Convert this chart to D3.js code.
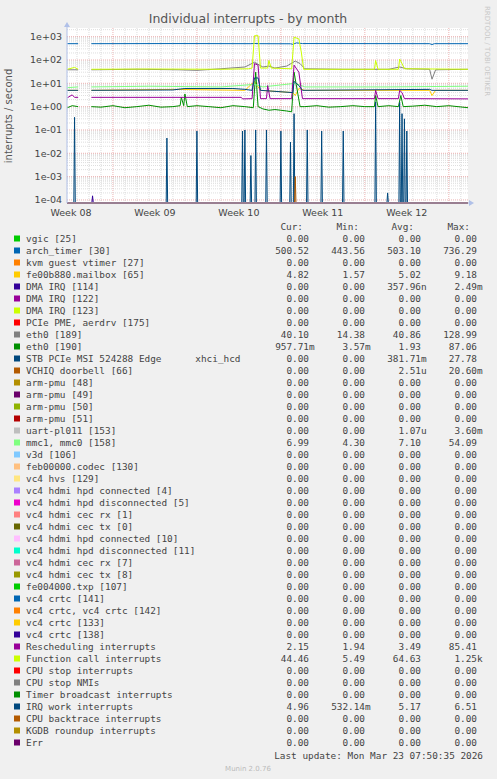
<!DOCTYPE html>
<html><head><meta charset="utf-8">
<script src="https://cdn.jsdelivr.net/npm/d3@7"></script>
<style>
body{margin:0;background:#f0f0f0;}
text{font-family:"DejaVu Sans",sans-serif;}
.mono{font-family:"DejaVu Sans Mono",monospace;font-size:9.4px;fill:#444;}
</style></head>
<body><svg id="c" width="497" height="779"></svg>
<script>
// time in days from Monday of week 08
var weekLabels = ['Week 08','Week 09','Week 10','Week 11','Week 12'];
var yTicks = [1e3,1e2,1e1,1,1e-1,1e-2,1e-3,1e-4];
var yTickLabels = ['1e+03','1e+02','1e+01','1e+00','1e-01','1e-02','1e-03','1e-04'];

// visible series, [day, value]; null value = no data
var archTimer = [[3.2,500],[4.1,500],[4.1,null],[5.2,null],[5.2,500],[12,505],[18.5,500],[18.8,510],[19.2,500],[21.8,495],[22.0,470],[22.3,540],[22.8,505],[33.4,500],[33.6,460],[33.8,500],[36.6,500]];
var funcCall = [[3.2,40],[3.8,48],[4.1,40],[4.1,null],[5.2,null],[5.2,40],[10,41],[16,40],[18.3,42],[18.6,45],[18.8,1100],[19.1,1100],[19.3,45],[19.9,45],[20.0,95],[20.2,45],[21.9,42],[22.1,950],[22.5,800],[22.7,220],[22.9,40],[28.8,40],[28.9,95],[29.1,40],[30.8,40],[30.9,110],[31.1,70],[31.3,42],[36.6,40]];
var eth189 = [[3.2,38],[4.1,38],[4.1,null],[5.2,null],[5.2,38],[9,40],[12.5,38],[14,36],[16,42],[18,50],[18.8,80],[19.5,50],[20,55],[20.5,45],[21.5,55],[22.2,90],[22.6,70],[23,42],[26,40],[30,40],[30.9,50],[31.5,42],[33.4,40],[33.6,15],[33.9,38],[36.6,40]];
var mmc = [[3.2,6.5],[4.1,7],[4.1,null],[5.2,null],[5.2,7],[10,7.5],[16,7],[18.8,9],[19.5,7],[22.2,10],[23,7],[30,7],[36.6,7.5]];
var mailbox = [[3.2,5],[4.1,5],[4.1,null],[5.2,null],[5.2,5],[12,5.5],[18,5],[18.8,12],[19.3,5],[22.0,4],[22.2,3],[22.5,6],[23,5],[33.4,5],[33.6,3],[33.9,5],[36.6,5]];
var resched = [[3.2,2.4],[3.6,3.2],[3.8,2.5],[4.1,2.5],[4.1,null],[5.2,null],[5.2,2.5],[17.7,2.5],[17.8,2.15],[18.6,2.2],[18.8,70],[19.1,60],[19.3,2.2],[19.8,2.2],[19.9,8],[20.1,2.2],[21.9,2.2],[22.1,60],[22.5,30],[22.8,2.2],[28.8,2.2],[28.9,5],[29.1,2.2],[30.8,2.2],[30.9,5],[31.1,4],[31.3,2.2],[36.6,2.15]];
var irqWork = [[3.2,5],[4.1,5],[4.1,null],[5.2,null],[5.2,5],[12,5.2],[13,6],[17,6],[18,5.5],[18.6,5],[18.8,17],[19.1,17],[19.3,5],[22,4],[22.1,12],[22.5,8],[22.8,5],[33.4,5.5],[33.6,5],[36.6,5]];
var eth190 = [[3.2,0.9],[3.6,1.1],[4.1,1.0],[4.1,null],[5.2,null],[5.2,1.0],[6,0.95],[7,1.1],[8,0.9],[9,1.0],[10,1.15],[11,0.95],[12,1.0],[12.6,1.1],[12.7,2.5],[12.9,1.1],[13.0,3.5],[13.2,1.0],[14,1.1],[15,1.0],[16,0.9],[17,1.1],[18,1.0],[18.7,0.9],[18.9,30],[19.1,1.0],[19.5,0.8],[20,0.7],[20.5,0.75],[21,0.7],[21.5,0.65],[21.9,0.6],[22.1,30],[22.6,1.0],[23,1.0],[24,1.1],[25,0.95],[26,1.0],[27,1.1],[28,1.0],[28.8,1.0],[28.9,3],[29.1,1.0],[30,1.1],[30.8,1.0],[31.0,3],[31.2,1.0],[32,1.05],[33,1.15],[34,1.0],[35,1.1],[36.6,0.9]];
// STB PCIe spikes: [day, peak]
var stbSpikes = [[3.8,0.35],[11.5,0.045],[14.0,0.09],[17.8,0.09],[18.0,0.1],[18.5,0.008],[18.9,0.1],[19.8,0.1],[21.0,0.09],[21.8,0.03],[22.1,0.5],[23.2,0.1],[24.4,0.09],[26.2,0.09],[28.9,1.6],[29.9,2e-4],[30.9,1.5],[31.1,0.5],[31.3,0.3],[31.5,0.09]];
var dmaSpikes = [[5.3,1.5e-4]];
var vchiqSpikes = [[22.2,1e-3]];

var names = ['vgic [25]','arch_timer [30]','kvm guest vtimer [27]','fe00b880.mailbox [65]','DMA IRQ [114]','DMA IRQ [122]','DMA IRQ [123]','PCIe PME, aerdrv [175]','eth0 [189]','eth0 [190]','STB PCIe MSI 524288 Edge      xhci_hcd','VCHIQ doorbell [66]','arm-pmu [48]','arm-pmu [49]','arm-pmu [50]','arm-pmu [51]','uart-pl011 [153]','mmc1, mmc0 [158]','v3d [106]','feb00000.codec [130]','vc4 hvs [129]','vc4 hdmi hpd connected [4]','vc4 hdmi hpd disconnected [5]','vc4 hdmi cec rx [1]','vc4 hdmi cec tx [0]','vc4 hdmi hpd connected [10]','vc4 hdmi hpd disconnected [11]','vc4 hdmi cec rx [7]','vc4 hdmi cec tx [8]','fe004000.txp [107]','vc4 crtc [141]','vc4 crtc, vc4 crtc [142]','vc4 crtc [133]','vc4 crtc [138]','Rescheduling interrupts','Function call interrupts','CPU stop interrupts','CPU stop NMIs','Timer broadcast interrupts','IRQ work interrupts','CPU backtrace interrupts','KGDB roundup interrupts','Err'];
var palette = ['#00cc00','#0066b3','#ff8000','#ffcc00','#330099','#990099','#ccff00','#ff0000','#808080','#008f00','#00487d','#b35a00','#b38f00','#6b006b','#8fb300','#b30000','#bebebe','#80ff80','#80c9ff','#ffc080','#ffe680','#aa80ff','#ee00cc','#ff8080','#666600','#ffbfff','#00ffcc','#cc6699','#999900'];
var cur = ['0.00','500.52','0.00','4.82','0.00','0.00','0.00','0.00','40.10','957.71m','0.00','0.00','0.00','0.00','0.00','0.00','0.00','6.99','0.00','0.00','0.00','0.00','0.00','0.00','0.00','0.00','0.00','0.00','0.00','0.00','0.00','0.00','0.00','0.00','2.15','44.46','0.00','0.00','0.00','4.96','0.00','0.00','0.00'];
var mins = ['0.00','443.56','0.00','1.57','0.00','0.00','0.00','0.00','14.38','3.57m','0.00','0.00','0.00','0.00','0.00','0.00','0.00','4.30','0.00','0.00','0.00','0.00','0.00','0.00','0.00','0.00','0.00','0.00','0.00','0.00','0.00','0.00','0.00','0.00','1.94','5.49','0.00','0.00','0.00','532.14m','0.00','0.00','0.00'];
var avgs = ['0.00','503.10','0.00','5.02','357.96n','0.00','0.00','0.00','40.86','1.93','381.71m','2.51u','0.00','0.00','0.00','0.00','1.07u','7.10','0.00','0.00','0.00','0.00','0.00','0.00','0.00','0.00','0.00','0.00','0.00','0.00','0.00','0.00','0.00','0.00','3.49','64.63','0.00','0.00','0.00','5.17','0.00','0.00','0.00'];
var maxs = ['0.00','736.29','0.00','9.18','2.49m','0.00','0.00','0.00','128.99','87.06','27.78','20.60m','0.00','0.00','0.00','0.00','3.60m','54.09','0.00','0.00','0.00','0.00','0.00','0.00','0.00','0.00','0.00','0.00','0.00','0.00','0.00','0.00','0.00','0.00','85.41','1.25k','0.00','0.00','0.00','6.51','0.00','0.00','0.00'];

var svg = d3.select('#c');
var L=67, R=468, T=28, B=203;
var x = d3.scaleLinear().domain([3.17,36.6]).range([L,R]);
var y = d3.scaleLog().domain([7.4e-5,2350]).range([B,T]).clamp(true);

svg.append('rect').attr('x',L).attr('y',T).attr('width',R-L).attr('height',B-T).attr('fill','#fff');

// grid
var g = svg.append('g');
d3.range(4,37).forEach(function(d){
    g.append('line').attr('x1',x(d)).attr('x2',x(d)).attr('y1',T).attr('y2',B)
     .attr('stroke', d%7==0 ? '#e08080' : '#c8c8c8').attr('stroke-dasharray','1,1').attr('stroke-width',0.6);
});
[-4,-3,-2,-1,0,1,2,3].forEach(function(e){
    d3.range(1,10).forEach(function(m){
        var v = m*Math.pow(10,e);
        if (y(v)<=T || y(v)>=B) return;
        g.append('line').attr('x1',L).attr('x2',R).attr('y1',y(v)).attr('y2',y(v))
         .attr('stroke', m==1 ? '#e08080' : '#c8c8c8').attr('stroke-dasharray','1,1').attr('stroke-width',0.6);
    });
});

// zero series along the bottom
var line = d3.line().defined(function(d){return d[1]!==null;}).x(function(d){return x(d[0]);}).y(function(d){return y(d[1]);});
function spikes(list){
    var pts=[[3.17,0]];
    list.forEach(function(s){ pts.push([s[0]-0.06,0],[s[0],s[1]],[s[0]+0.06,0]); });
    pts.push([36.6,0]);
    return pts.map(function(p){return [p[0], p[1]||1e-6];});
}
var byName = {};
byName[1]=archTimer; byName[3]=mailbox; byName[4]=spikes(dmaSpikes); byName[8]=eth189; byName[9]=eth190;
byName[10]=spikes(stbSpikes); byName[11]=spikes(vchiqSpikes); byName[17]=mmc; byName[34]=resched; byName[35]=funcCall; byName[39]=irqWork;
names.forEach(function(n,i){
    var d = byName[i] || [[3.17,1e-6],[36.6,1e-6]];
    svg.append('path').datum(d).attr('d',line).attr('fill','none')
       .attr('stroke',palette[i%29]).attr('stroke-width',1);
});

// axes arrows
var ax='#b0c0e8';
svg.append('line').attr('x1',L).attr('x2',R+3).attr('y1',B).attr('y2',B).attr('stroke',ax);
svg.append('path').attr('d','M'+(R+6)+','+B+'l-5,-3v6z').attr('fill',ax);
svg.append('line').attr('x1',L).attr('x2',L).attr('y1',B).attr('y2',T-3).attr('stroke',ax);
svg.append('path').attr('d','M'+L+','+(T-6)+'l-3,5h6z').attr('fill',ax);

// tick labels
yTicks.forEach(function(v,i){
    svg.append('text').attr('x',62).attr('y',y(v)+3.5).attr('text-anchor','end')
       .attr('font-size',9.5).attr('fill','#444').text(yTickLabels[i]);
});
weekLabels.forEach(function(w,i){
    svg.append('text').attr('x',x(i*7+3.5)).attr('y',216).attr('text-anchor','middle')
       .attr('font-size',9.5).attr('fill','#444').text(w);
});

svg.append('text').attr('x',248).attr('y',23).attr('text-anchor','middle').attr('font-size',12.5).attr('fill','#555')
   .text('Individual interrupts - by month');
svg.append('text').attr('transform','translate(12,116) rotate(-90)').attr('text-anchor','middle')
   .attr('font-size',10).attr('fill','#555').text('interrupts / second');
svg.append('text').attr('transform','translate(485,6) rotate(90)').attr('font-size',7).attr('fill','#c8c8c8')
   .text('RRDTOOL / TOBI OETIKER');

// legend
var cw = 5.66;
function num(s,xr,yy){
    var suf = /[munk]$/.test(s) ? s.slice(-1) : '';
    var body = suf ? s.slice(0,-1) : s;
    svg.append('text').attr('class','mono').attr('x',xr).attr('y',yy).attr('text-anchor','end').text(body);
    if (suf) svg.append('text').attr('class','mono').attr('x',xr).attr('y',yy).text(suf);
}
[['Cur:',303],['Min:',359],['Avg:',414],['Max:',470]].forEach(function(h){
    svg.append('text').attr('class','mono').attr('x',h[1]).attr('y',230).attr('text-anchor','end').text(h[0]);
});
names.forEach(function(n,i){
    var yy = 242 + i*12;
    svg.append('rect').attr('x',14).attr('y',yy-6.5).attr('width',6).attr('height',6).attr('fill',palette[i%29]);
    svg.append('text').attr('class','mono').attr('x',26).attr('y',yy).attr('xml:space','preserve').style('white-space','pre').text(n);
    num(cur[i],309,yy); num(mins[i],365,yy); num(avgs[i],421,yy); num(maxs[i],477,yy);
});
svg.append('text').attr('class','mono').attr('x',483).attr('y',759).attr('text-anchor','end').text('Last update: Mon Mar 23 07:50:35 2026');
svg.append('text').attr('x',248).attr('y',771).attr('text-anchor','middle').attr('font-size',7).attr('fill','#bbb').text('Munin 2.0.76');
</script></body></html>
